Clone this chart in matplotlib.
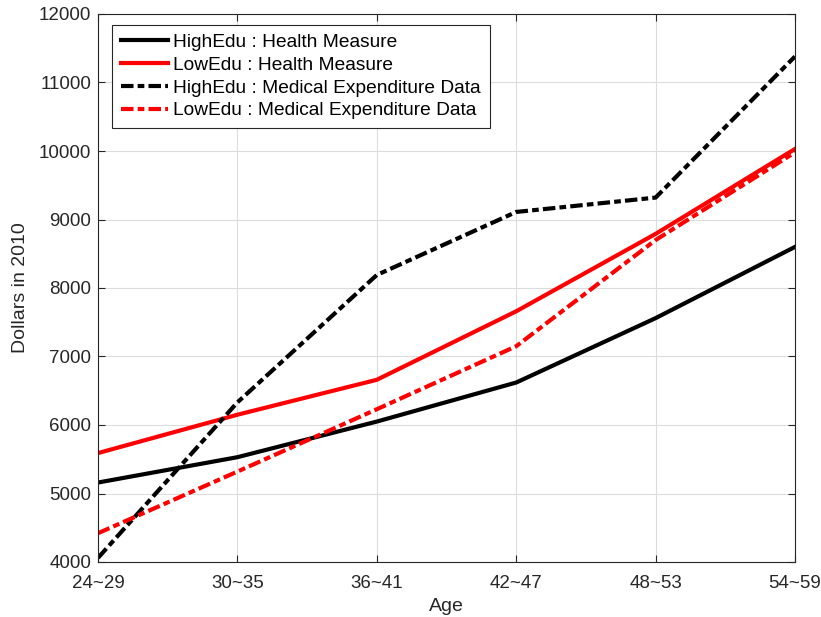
import matplotlib.pyplot as plt

plt.rcParams['font.family'] = ['Liberation Sans', 'DejaVu Sans']

age_groups = ["24~29", "30~35", "36~41", "42~47", "48~53", "54~59"]

high_health = [5160, 5530, 6050, 6620, 7560, 8600]
low_health = [5590, 6150, 6660, 7660, 8790, 10030]
high_med = [4060, 6330, 8190, 9110, 9320, 11380]
low_med = [4420, 5320, 6230, 7150, 8700, 9980]

x = list(range(len(age_groups)))
dashdot = (3.0, 1.0, 1.6, 1.0)

fig = plt.figure(figsize=(8.21, 6.17), dpi=100)
ax = fig.add_axes([98 / 821, 1 - 562 / 617, (795 - 98) / 821, (562 - 14) / 617])

ax.plot(x, high_health, color="black", lw=3, label="HighEdu : Health Measure")
ax.plot(x, low_health, color="red", lw=3, label="LowEdu : Health Measure")
ax.plot(x, high_med, color="black", lw=3, dashes=dashdot,
        label="HighEdu : Medical Expenditure Data")
ax.plot(x, low_med, color="red", lw=3, dashes=dashdot,
        label="LowEdu : Medical Expenditure Data")

ax.set_xlim(0, len(age_groups) - 1)
ax.set_ylim(4000, 12000)
ax.set_xticks(x)
ax.set_xticklabels(age_groups)
ax.set_yticks(range(4000, 12001, 1000))
ax.tick_params(direction="in", length=5, labelsize=13.5, colors="#262626",
               top=True, right=True, pad=5)
ax.tick_params(axis="x", pad=9)
ax.grid(True, color="#dcdcdc", lw=0.8)
ax.set_axisbelow(True)
for s in ax.spines.values():
    s.set_color("#262626")
    s.set_linewidth(0.8)

ax.set_xlabel("Age", fontsize=14, color="#262626", labelpad=5)
ax.set_ylabel("Dollars in 2010", fontsize=14, color="#262626", labelpad=7)

leg = ax.legend(loc="upper left", fontsize=13.8, handlelength=2.5,
                handletextpad=0.25, borderpad=0.45, labelspacing=0.28,
                borderaxespad=0, fancybox=False, framealpha=1,
                edgecolor="#262626", bbox_to_anchor=(0.02, 0.98))
leg.get_frame().set_linewidth(0.8)

fig.savefig("out.png", dpi=100)
